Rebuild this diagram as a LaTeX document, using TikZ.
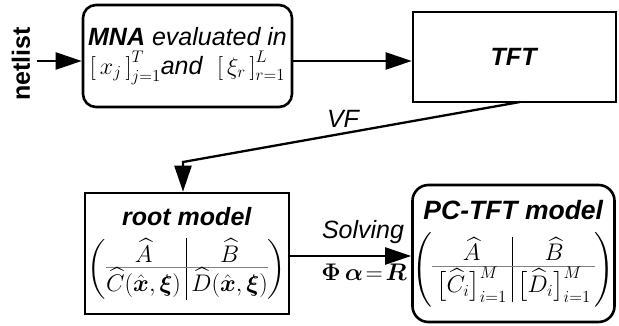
\RequirePackage{fix-cm}
\documentclass[tikz,border=0pt]{standalone}
\usepackage{amsmath}
\usepackage{colortbl}
\usepackage{fontspec}
\setmainfont{Liberation Sans}
\usetikzlibrary{arrows.meta}

\tikzset{
  big/.style={font=\fontsize{25}{29}\selectfont},
  box/.style={draw, line width=2.6pt, align=center, inner sep=0pt, big},
  rbox/.style={box, rounded corners=13pt},
  conn/.style={line width=2.3pt},
  arr/.style={conn, -{Triangle[length=26pt,width=17pt]}},
}
\newcommand{\graybar}{\arrayrulecolor{gray}\hline\arrayrulecolor{black}}
\newcommand{\mathsz}{\fontsize{24}{28}\selectfont}

\begin{document}
\begin{tikzpicture}[x=1pt,y=-1pt]
  \useasboundingbox (0,0) rectangle (619,326);

  % input label
  \node[font=\fontsize{25}{29}\selectfont\bfseries, rotate=90] (net) at (21,64) {netlist};

  % first stage: modified nodal analysis
  \node[rbox, minimum width=209pt, minimum height=102pt] (mna) at (187.5,56)
    {\textbf{\textit{MNA}} \textit{evaluated in}\\[0pt]
     {\mathsz$\left[\,x_j\,\right]_{j=1}^{T}$}\textit{and}\ \ {\mathsz$\left[\,\xi_r\,\right]_{r=1}^{L}$}};

  \node[box, minimum width=203pt, minimum height=90pt] (tft) at (514.5,57)
    {\textbf{\textit{TFT}}};

  % reduced models
  \node[box, minimum width=204pt, minimum height=121pt] (root) at (187,253.5)
    {\textbf{\textit{root model}}\\[12pt]
     {\mathsz$\left(\begin{array}{@{}c|c@{}}
       \widehat{A} & \widehat{B} \\[-3pt] \graybar
       \widehat{C}(\hat{\boldsymbol{x}},\boldsymbol{\xi}) &
       \widehat{D}(\hat{\boldsymbol{x}},\boldsymbol{\xi})
     \end{array}\right)$}};

  \node[rbox, rounded corners=16pt, minimum width=195pt, minimum height=137pt] (pc) at (513.5,253.5)
    {{\fontsize{26.5}{30}\selectfont\textbf{\textit{PC-TFT model}}}\\[12pt]
     {\mathsz$\left(\begin{array}{@{\,}c|c@{\,}}
       \widehat{A} & \widehat{B} \\[-3pt] \graybar
       \bigl[\widehat{C}_i\bigr]_{i=1}^{M} &
       \bigl[\widehat{D}_i\bigr]_{i=1}^{M}
     \end{array}\right)$}};

  % connectors
  \coordinate (netend) at (37,61);
  \draw[arr] (netend) -- (mna.west |- netend);
  \draw[arr] (mna.east |- netend) -- (tft.west |- netend);

  \coordinate (vfstart) at (520,102);
  \coordinate (vfbend) at (183,162);
  \draw[arr] (vfstart) -- (vfbend) -- (vfbend |- root.north);
  \node[font=\fontsize{25}{29}\selectfont\itshape] (vf) at (343,119) {VF};

  \coordinate (solvey) at (300,256);
  \draw[arr] (root.east |- solvey) -- (pc.west |- solvey);
  \node[font=\fontsize{25}{29}\selectfont\itshape] (solving) at (363,232) {Solving};
  \node[font=\mathsz] (eq) at (364,272)
    {$\boldsymbol{\Phi}\,\boldsymbol{\alpha}\!=\!\boldsymbol{R}$};
\end{tikzpicture}
\end{document}
